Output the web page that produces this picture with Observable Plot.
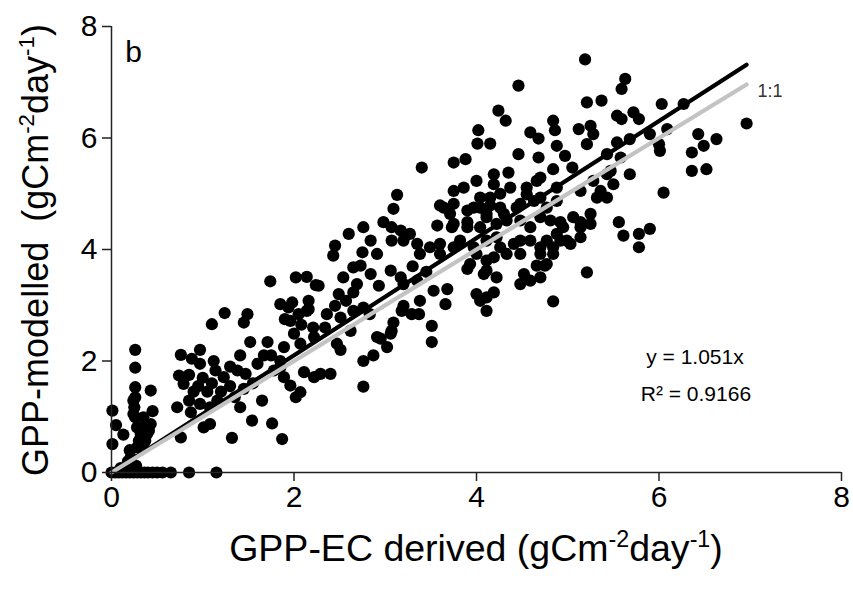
<!DOCTYPE html>
<html><head><meta charset="utf-8">
<script src="https://cdn.jsdelivr.net/npm/d3@7"></script>
<script src="https://cdn.jsdelivr.net/npm/@observablehq/plot@0.6"></script>
<style>
body{margin:0;background:#fff}
#chart{position:relative;width:853px;height:595px}
</style>
</head><body><div id="chart"></div>
<script>
// ---- data (GPP-EC derived, GPP-modelled) in gC m-2 day-1 ----
const xTicks = [0, 2, 4, 6, 8];
const yTicks = [0, 2, 4, 6, 8];
const fitSlope = 1.051;
const lineX = [0, 6.96];

const zeroRow = [[0.00,0],[0.04,0],[0.08,0],[0.12,0],[0.16,0],[0.20,0],[0.24,0],[0.28,0],[0.32,0],[0.36,0],[0.40,0],[0.45,0],[0.50,0],[0.56,0],[0.65,0],[0.85,0],[1.15,0],
  [0.18,0.2],[0.27,0.12],[0.21,0.27],[0.1,0.08]];
const lowLeft = [[0.01,1.11],[0.05,0.85],[0.01,0.51],[0.13,0.68],
  [0.26,2.2],[0.26,1.88],[0.26,1.53],[0.26,1.35],[0.25,1.17],[0.26,0.99],[0.28,0.81],[0.30,0.57],[0.24,1.29],[0.24,1.05],
  [0.43,1.47],[0.35,0.99],[0.43,0.87],[0.39,0.69],[0.35,0.51],[0.35,0.81],[0.41,0.75],[0.32,0.69],[0.37,0.57],[0.28,0.45],[0.2,0.4],[0.45,1.1]];
const midLeft = [[0.76,0.63],[1.32,0.62],[1.87,0.6],[1.54,0.93],[1.76,0.88],[1.65,1.29],[1.41,1.17],
  [0.72,1.17],[0.85,1.29],[0.87,1.08],[0.97,1.23],[1.08,1.17],[1.16,1.29],[1.01,0.81],[1.08,0.87],
  [0.74,1.74],[0.79,1.59],[1.12,2.0],[1.14,1.83],[1.23,1.71],[1.38,1.83],[1.47,1.77],[1.52,2.34],[1.71,2.34],[1.67,2.1],[1.41,2.1],
  [1.78,1.83],[1.89,1.71],[1.96,1.56],[2.07,1.44],[2.02,1.35],[2.11,1.8],[2.22,1.71],
  [0.76,2.11],[0.88,2.04],[0.97,2.2],[0.97,1.95],
  [1.24,2.86],[1.10,2.66],[1.49,2.84],[1.45,2.69],
  [1.74,3.43],[2.02,3.5],[2.14,3.51],[2.24,3.36],[1.85,3.02],[1.98,3.05],[2.16,3.08],[2.16,2.93],
  [1.9,2.75],[2.08,2.65],[1.89,2.25],[1.96,2.72],[2.05,2.84],
  [2.27,3.35],[2.21,2.6],[2.14,2.9],[1.94,2.96],[2.0,2.49],[2.07,2.31],[2.22,2.43],[2.29,1.77],[2.4,1.77],[1.85,1.89],
  [1.3,1.9],[1.3,1.55],[1.55,1.6],[1.6,1.95],[0.95,1.55],[1.05,1.45],[0.85,1.75],[1.0,1.7],[1.2,1.45],[1.35,1.35],[0.9,1.45],[1.1,1.6],[1.45,1.5],[1.75,2.1],[1.85,2.0]];
const middle = [[2.76,1.54],[2.76,2.0],[2.87,2.1],[2.51,2.2],[2.95,2.4],[3.02,2.25],[3.07,2.54],[3.09,2.69],[3.51,2.63],[3.51,2.34],
  [3.18,2.9],[3.37,2.84],[3.38,3.08],[3.53,3.26],[3.68,3.29],[3.66,3.02],
  [2.62,2.54],[2.51,2.78],[2.36,2.84],
  [2.54,3.5],[2.65,3.68],[2.49,3.2],[2.65,3.23],[2.76,2.96],[2.84,3.56],[2.93,3.35],[3.06,3.62],[3.17,3.5],[2.45,2.99],[2.34,2.6],
  [2.73,3.71],[2.69,3.38],[3.2,3.38],[2.57,3.08],[2.65,2.9],[2.83,2.84],
  [2.91,2.43],[3.06,2.49],[2.47,2.31],[3.29,2.84],[3.2,2.99],[3.35,3.44],[3.3,3.7],[3.45,3.6]];
const midUpper = [[3.40,5.47],[3.13,4.98],[3.09,4.73],[2.6,4.28],[2.45,4.07],[2.43,3.89],
  [2.76,4.4],[2.84,4.16],[2.98,4.49],[3.07,4.4],[3.17,4.34],[3.27,4.28],[3.07,4.16],[3.2,4.16],[3.35,4.1],[3.49,4.04],[3.38,3.92],[3.6,3.92],[2.91,3.92],[2.75,3.95],
  [3.6,4.79],[3.71,4.64],[3.57,4.43],[3.73,4.4],[3.82,4.16],[3.9,4.49],[3.97,4.75],[3.75,5.56],[3.88,5.62]];
const rightMid = [[4.0,5.23],[4.19,5.35],[4.35,5.38],[3.75,5.05],[3.86,5.11],[4.04,4.93],[4.15,4.79],[4.26,5.0],[4.37,5.11],[4.55,5.11],[4.66,5.23],[4.48,4.82],[4.3,4.64],[4.04,4.4],[4.11,4.16],[4.22,4.22],[4.48,4.16],[4.59,4.16],[4.33,3.92],[4.0,3.92],[4.48,3.92],
  [4.19,5.17],[3.75,4.82],[3.64,4.75],[3.9,4.7],[4.04,4.75],[4.11,4.58],[4.22,4.46],[3.75,4.46],[3.9,4.4],[3.6,4.1],[3.75,4.04],[3.97,4.04],[3.93,3.74],[4.08,3.56],[4.19,3.86],[4.22,3.5],[4.04,3.08],[4.11,2.9],[4.0,3.2],
  [4.11,3.14],[4.19,3.23],[3.9,3.65],[4.11,3.62],[4.48,3.38],[4.59,3.44],[4.66,3.71],
  [4.15,4.93],[4.26,4.75],[4.11,4.64],[4.33,4.52],[4.44,4.75],[4.55,4.99],[4.63,4.87],[4.48,4.52],[4.59,4.4],[4.70,4.58],[4.77,4.75],[4.88,4.87],[4.81,4.52],[4.95,4.4],[5.06,4.58],[5.14,4.4],[5.25,4.64],[5.25,4.46],[5.14,4.22],[4.99,4.16],[4.88,4.28],[4.77,4.16],[4.70,4.04],[4.41,4.1],[4.26,4.04],[4.11,3.8],[4.52,3.56],[4.84,4.04],[5.03,4.1],[4.77,3.74]];
const upper = [[4.46,6.94],[4.24,6.49],[4.32,6.31],[4.59,6.1],[4.68,5.99],[4.02,6.14],[4.01,5.9],[4.15,5.9],[4.46,5.71],[4.68,5.65],
  [5.19,7.41],[5.63,7.06],[5.59,6.88],[5.21,6.64],[5.37,6.67],[6.03,6.61],[6.27,6.61],[6.96,6.26],
  [5.54,6.4],[5.72,6.46],[5.78,6.34],[5.59,6.34],[4.84,6.31],[4.86,6.14],
  [5.12,6.16],[5.25,6.22],[5.28,6.07],[5.21,5.89],[4.88,5.86],[4.97,5.68],[4.84,5.44],[5.05,5.47],
  [5.54,5.92],[5.68,5.98],[5.9,6.07],[6.0,5.89],[6.01,5.77],[6.09,6.16],
  [6.43,6.07],[6.49,5.86],[6.36,5.74],[6.63,5.98],[6.36,5.41],[6.52,5.44],
  [5.68,5.35],[6.05,5.02],[5.43,5.35],[5.5,5.17],[5.36,5.05],[5.43,4.93],[5.32,4.93],
  [5.56,4.49],[5.61,4.25],[5.78,4.28],[5.9,4.37],[5.78,4.04],
  [5.14,4.49],[4.92,4.16],[4.84,3.92],[4.7,3.92],[4.92,4.49],
  [4.7,5.29],[4.88,5.11],[5.14,5.05],[5.28,5.23],[5.47,5.41],[5.58,5.65],[5.43,5.71],[4.70,4.93],
  [5.21,3.59],[4.84,3.07],[4.75,3.71],[4.7,3.5]];

// annotation anchors (data units)
const panelLabel = [{x: 0.15, y: 7.54, text: "b"}];
const lineLabel = [{x: 7.08, y: 6.83, text: "1:1"}];
const statLabels = [{x: 5.86, y: 2.06, text: "y = 1.051x"}, {x: 5.8, y: 1.41, text: "R² = 0.9166"}];

const points = [...zeroRow, ...lowLeft, ...midLeft, ...middle, ...midUpper, ...rightMid, ...upper].map(([x, y]) => ({x, y}));
const fitLine = lineX.map(x => ({x, y: fitSlope * x}));
const oneToOne = lineX.map(x => ({x, y: x}));

const FONT = "'Liberation Sans', Arial, Helvetica, sans-serif";

const chart = Plot.plot({
  width: 853, height: 595,
  marginLeft: 111, marginRight: 12, marginTop: 26, marginBottom: 123,
  style: {fontFamily: FONT, background: "#fff", color: "#000", overflow: "visible"},
  x: {domain: [0, 8], axis: null},
  y: {domain: [0, 8], axis: null},
  marks: [
    Plot.dot(points, {x: "x", y: "y", r: 6.1, fill: "#000", stroke: "none"}),
    Plot.line(fitLine, {x: "x", y: "y", stroke: "#000", strokeWidth: 4.2}),
    Plot.line(oneToOne, {x: "x", y: "y", stroke: "#c3c3c3", strokeWidth: 4.2}),
    Plot.ruleY([0], {stroke: "#222", strokeWidth: 1.5}),
    Plot.ruleX([0], {stroke: "#222", strokeWidth: 1.5}),
    Plot.axisX(xTicks, {tickSize: 9, tickPadding: 4, fontSize: 30, label: null, tickFormat: d => String(d), stroke: "#222", strokeWidth: 1.5}),
    Plot.axisY(yTicks, {tickSize: 9, tickPadding: 5, fontSize: 30, label: null, tickFormat: d => String(d), stroke: "#222", strokeWidth: 1.5}),
    Plot.text(panelLabel, {x: "x", y: "y", text: "text", fontSize: 30, textAnchor: "start", fill: "#000"}),
    Plot.text(lineLabel, {x: "x", y: "y", text: "text", fontSize: 18, textAnchor: "start", fill: "#333"}),
    Plot.text(statLabels, {x: "x", y: "y", text: "text", fontSize: 21, textAnchor: "start", fill: "#000"})
  ]
});
document.getElementById("chart").appendChild(chart);

// axis titles with superscripts
const svg = d3.select(chart);
function titled(sel, parts, size) {
  parts.forEach(([t, sup], i) => {
    const prevSup = i > 0 && parts[i - 1][1];
    const ts = sel.append("tspan").text(t);
    if (sup) ts.attr("font-size", size * 0.62).attr("dy", -size * 0.38);
    else if (prevSup) ts.attr("dy", size * 0.38);
  });
}
const xt = svg.append("text")
  .attr("x", 476).attr("y", 561)
  .attr("text-anchor", "middle").attr("font-size", 37.5)
  .attr("font-family", FONT).attr("fill", "#000");
titled(xt, [["GPP-EC derived (gCm", false], ["-2", true], ["day", false], ["-1", true], [")", false]], 37.5);
const yt = svg.append("text")
  .attr("transform", "translate(48,250) rotate(-90)")
  .attr("text-anchor", "middle").attr("font-size", 36)
  .attr("font-family", FONT).attr("fill", "#000");
titled(yt, [["GPP-modelled\u00a0 (gCm", false], ["-2", true], ["day", false], ["-1", true], [")", false]], 36);
</script>
</body></html>
